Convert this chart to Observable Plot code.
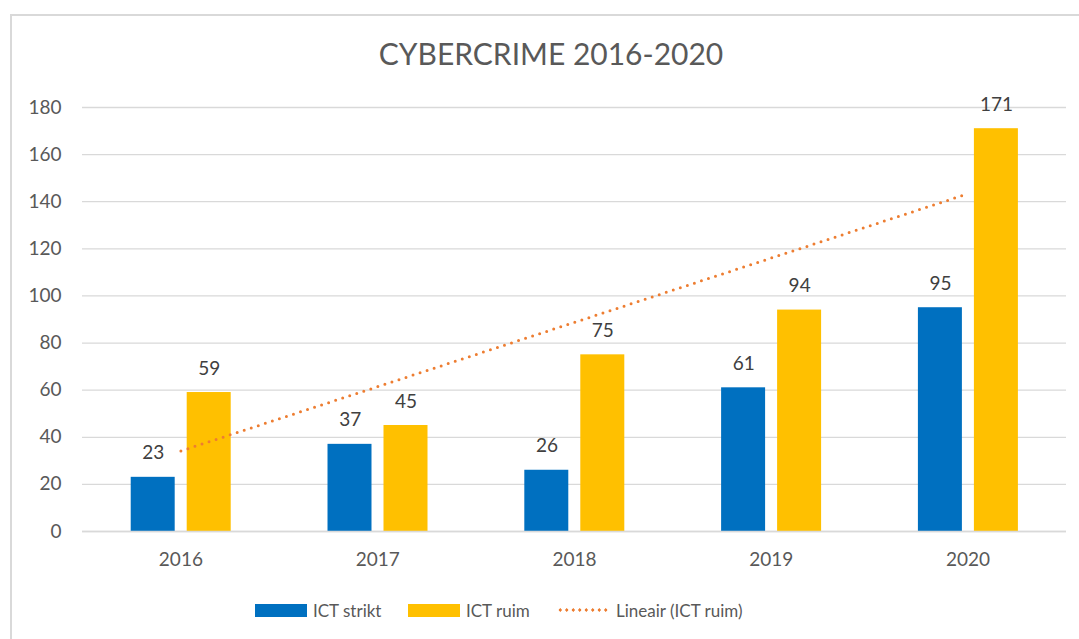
<!DOCTYPE html>
<html>
<head>
<meta charset="utf-8">
<script src="https://cdn.jsdelivr.net/npm/d3@7"></script>
<script src="https://cdn.jsdelivr.net/npm/@observablehq/plot@0.6"></script>
<style>
  html, body { margin: 0; padding: 0; background: #fff; width: 1079px; height: 639px; overflow: hidden; }
  #wrap { position: relative; width: 1079px; height: 639px; font-family: Lato, "Open Sans", sans-serif; color: #595959; }
  #frame { position: absolute; left: 10px; top: 14px; width: 1200px; height: 800px; border: 2px solid #d9d9d9; box-sizing: border-box; z-index: 2; pointer-events: none; }
  #title { position: absolute; left: 0; width: 1102px; top: 34px; text-align: center; font-size: 30px; line-height: 38px; z-index: 3; }
  #chart { position: absolute; left: 0; top: 0; z-index: 1; }
  #legend { position: absolute; top: 598px; left: 0; height: 24px; z-index: 3; font-size: 17px; }
  .item { position: absolute; top: 0; height: 24px; display: flex; align-items: center; white-space: nowrap; }
  .sw { display: inline-block; width: 52px; height: 13px; margin-right: 6px; }
  .dots { display: inline-block; width: 52px; height: 4px; margin-right: 7px; background-image: radial-gradient(circle, #ED7D31 1.5px, transparent 1.7px); background-size: 6.5px 4px; background-repeat: repeat-x; }
</style>
</head>
<body>
<div id="wrap">
  <div id="frame"></div>
  <div id="title">CYBERCRIME 2016-2020</div>
  <div id="chart"></div>
  <div id="legend"></div>
</div>
<script>
const years = [2016, 2017, 2018, 2019, 2020];
const ictStrikt = [23, 37, 26, 61, 95];
const ictRuim = [59, 45, 75, 94, 171];
const yTicks = [0, 20, 40, 60, 80, 100, 120, 140, 160, 180];
const seriesNames = ["ICT strikt", "ICT ruim", "Lineair (ICT ruim)"];
const seriesColors = ["#0070C0", "#FFC000", "#ED7D31"];

const data = years.map((y, i) => ({year: y, strikt: ictStrikt[i], ruim: ictRuim[i]}));

const chart = Plot.plot({
  width: 1079,
  height: 600,
  marginTop: 107,
  marginBottom: 69,
  marginLeft: 82,
  marginRight: 13,
  style: {fontFamily: "Lato, 'Open Sans', sans-serif", fontSize: "19px", color: "#595959", background: "transparent", overflow: "visible"},
  x: {type: "linear", domain: [2015.5, 2020.5]},
  y: {domain: [0, 180]},
  marks: [
    Plot.gridY(yTicks, {stroke: "#d9d9d9", strokeOpacity: 1, strokeWidth: 1.3}),
    Plot.axisY(yTicks, {tickSize: 0, tickPadding: 21, label: null}),
    Plot.axisX(years, {tickSize: 0, tickPadding: 21, tickFormat: d => String(d), label: null}),
    Plot.rectY(data, {x1: d => d.year - 0.2525, x2: d => d.year - 0.029, y1: 0, y2: "strikt", fill: seriesColors[0]}),
    Plot.rectY(data, {x1: d => d.year + 0.032, x2: d => d.year + 0.2556, y1: 0, y2: "ruim", fill: seriesColors[1]}),
    Plot.ruleY([0], {stroke: "#d9d9d9", strokeWidth: 1.5}),
    Plot.linearRegressionY(data, {x: "year", y: "ruim", ci: 0, stroke: seriesColors[2], strokeWidth: 3, strokeDasharray: "0,7.4", strokeLinecap: "round"}),
    Plot.text(data, {x: d => d.year - 0.14, y: "strikt", text: d => String(d.strikt), dy: -24, fill: "#404040", fontSize: 19}),
    Plot.text(data, {x: d => d.year + 0.144, y: "ruim", text: d => String(d.ruim), dy: -24, fill: "#404040", fontSize: 19})
  ]
});
document.getElementById("chart").appendChild(chart);

const legend = document.getElementById("legend");
const lefts = [255, 408, 557];
seriesNames.forEach((name, i) => {
  const item = document.createElement("div");
  item.className = "item";
  item.style.left = lefts[i] + "px";
  const sw = document.createElement("span");
  if (i < 2) { sw.className = "sw"; sw.style.background = seriesColors[i]; }
  else { sw.className = "dots"; }
  item.appendChild(sw);
  const t = document.createElement("span");
  t.textContent = name;
  item.appendChild(t);
  legend.appendChild(item);
});
</script>
</body>
</html>
